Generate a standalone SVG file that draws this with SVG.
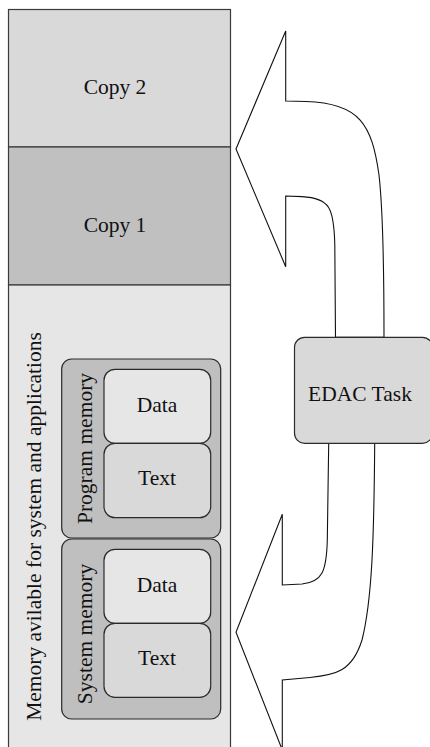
<svg xmlns="http://www.w3.org/2000/svg" width="430" height="747" viewBox="0 0 430 747">
  <style>
    .lbl { font-family: "Liberation Serif", "Times New Roman", serif; font-size: 21.5px; fill: #111; }
    .mid { text-anchor: middle; }
    .col { stroke: #3a3a3a; stroke-width: 1.2; }
    .box { stroke: #2a2a2a; stroke-width: 1.2; }
    .arrow { fill: #ffffff; stroke: #111; stroke-width: 1.1; stroke-linejoin: miter; }
  </style>

  <!-- memory column -->
  <g id="copy2">
    <rect class="col" x="8.5" y="9.5" width="222" height="137.5" fill="#d9d9d9"/>
    <text class="lbl mid" x="115" y="94">Copy 2</text>
  </g>
  <g id="copy1">
    <rect class="col" x="8.5" y="147" width="222" height="138" fill="#c0c0c0"/>
    <text class="lbl mid" x="115" y="231.5">Copy 1</text>
  </g>
  <g id="available">
    <rect class="col" x="8.5" y="285" width="222" height="470" fill="#e6e6e6"/>
    <text class="lbl mid" transform="translate(40.5,526.5) rotate(-90)">Memory avilable for system and applications</text>
  </g>

  <!-- program memory block -->
  <g id="program-memory">
    <rect class="box" x="61.7" y="359" width="159" height="179" rx="10" fill="#bfbfbf"/>
    <text class="lbl mid" transform="translate(92,448.5) rotate(-90)">Program memory</text>
  </g>
  <g id="program-data">
    <rect class="box" x="104" y="369.3" width="106.7" height="74" rx="11" fill="#e6e6e6"/>
    <text class="lbl mid" x="157" y="412.3">Data</text>
  </g>
  <g id="program-text">
    <rect class="box" x="104" y="443.3" width="106.7" height="74.4" rx="11" fill="#d9d9d9"/>
    <text class="lbl mid" x="157" y="485">Text</text>
  </g>

  <!-- system memory block -->
  <g id="system-memory">
    <rect class="box" x="61.7" y="539" width="159" height="180" rx="10" fill="#bfbfbf"/>
    <text class="lbl mid" transform="translate(92,634) rotate(-90)">System memory</text>
  </g>
  <g id="system-data">
    <rect class="box" x="104" y="549.3" width="106.7" height="74" rx="11" fill="#e6e6e6"/>
    <text class="lbl mid" x="157" y="591.7">Data</text>
  </g>
  <g id="system-text">
    <rect class="box" x="104" y="623.3" width="106.7" height="74" rx="11" fill="#d9d9d9"/>
    <text class="lbl mid" x="157" y="665">Text</text>
  </g>

  <!-- block arrows between the task and the memory copies -->
  <g id="connectors">
    <path class="arrow" d="M236,149 L285.7,31 L285.7,101 L306,101.5 C360,103 372,125 379,175 C383,210 384,260 384,337.3 L335.5,337.3 L334.8,245 C334,208 330,198 302,196.6 L285.7,196 L285.7,266.7 Z"/>
    <path class="arrow" d="M236,632.3 L282.3,514.3 L282.3,585 L302,584 C322,582 326.5,572 327.3,540 L328.7,443.3 L374.7,443.3 C374,540 372,600 362,640 C352,672 335,675 310,677.5 L282.3,680 L282.3,750 Z"/>
  </g>

  <g id="edac-task">
    <rect class="box" x="294.5" y="337.3" width="138" height="106" rx="10" fill="#d9d9d9"/>
    <text class="lbl mid" x="360" y="400.7">EDAC Task</text>
  </g>
</svg>
